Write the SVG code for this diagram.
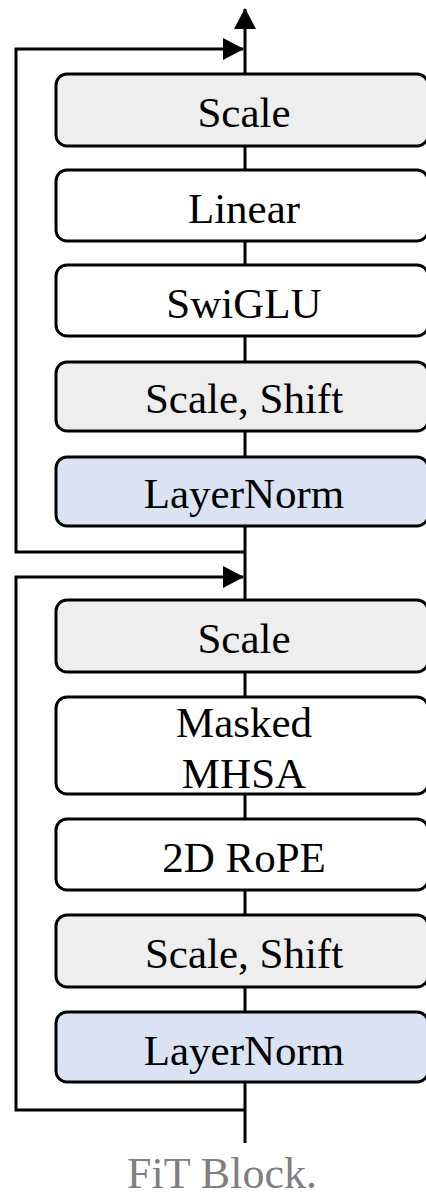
<svg xmlns="http://www.w3.org/2000/svg" width="426" height="1199" viewBox="0 0 426 1199">
<style>
.box{stroke:#000;stroke-width:3}
.gray{fill:#eeeeee}
.white{fill:#ffffff}
.blue{fill:#dae3f3}
.lbl{font-family:"Liberation Serif",serif;font-size:43px;fill:#000;text-anchor:middle}
.ln{fill:none;stroke:#000;stroke-width:3}
.cap{font-family:"Liberation Serif",serif;font-size:44px;fill:#808080;text-anchor:middle}
</style>
<defs>
<marker id="ah" markerUnits="userSpaceOnUse" markerWidth="22" markerHeight="22" refX="20" refY="11" orient="auto">
<path d="M0,0 L21,11 L0,22 Z" fill="#000"/>
</marker>
</defs>
<rect width="426" height="1199" fill="#fff"/>
<g id="connectors">
<line class="ln" x1="245" y1="1143" x2="245" y2="9" marker-end="url(#ah)"/>
<polyline class="ln" points="245,552 16,552 16,49 243,49" marker-end="url(#ah)"/>
<polyline class="ln" points="245,1110 16,1110 16,577 243,577" marker-end="url(#ah)"/>
</g>
<g id="scale1"><rect class="box gray" x="56" y="74" width="372" height="72" rx="11"/><text class="lbl" x="244" y="127">Scale</text></g>
<g id="linear"><rect class="box white" x="56" y="170" width="372" height="71" rx="11"/><text class="lbl" x="244" y="223">Linear</text></g>
<g id="swiglu"><rect class="box white" x="56" y="265" width="372" height="71" rx="11"/><text class="lbl" x="244" y="318">SwiGLU</text></g>
<g id="scaleshift1"><rect class="box gray" x="56" y="362" width="372" height="69" rx="11"/><text class="lbl" x="244" y="413">Scale, Shift</text></g>
<g id="layernorm1"><rect class="box blue" x="56" y="457" width="372" height="69" rx="11"/><text class="lbl" x="244" y="508">LayerNorm</text></g>
<g id="scale2"><rect class="box gray" x="56" y="600" width="372" height="72" rx="11"/><text class="lbl" x="244" y="653">Scale</text></g>
<g id="mhsa"><rect class="box white" x="56" y="697" width="372" height="97" rx="11"/><text class="lbl" x="244" y="737">Masked</text><text class="lbl" x="244" y="788">MHSA</text></g>
<g id="rope"><rect class="box white" x="56" y="819" width="372" height="71" rx="11"/><text class="lbl" x="244" y="872">2D RoPE</text></g>
<g id="scaleshift2"><rect class="box gray" x="56" y="915" width="372" height="72" rx="11"/><text class="lbl" x="244" y="968">Scale, Shift</text></g>
<g id="layernorm2"><rect class="box blue" x="56" y="1012" width="372" height="70" rx="11"/><text class="lbl" x="244" y="1065">LayerNorm</text></g>
<g id="caption"><text class="cap" x="222" y="1188">FiT Block.</text></g>
</svg>
